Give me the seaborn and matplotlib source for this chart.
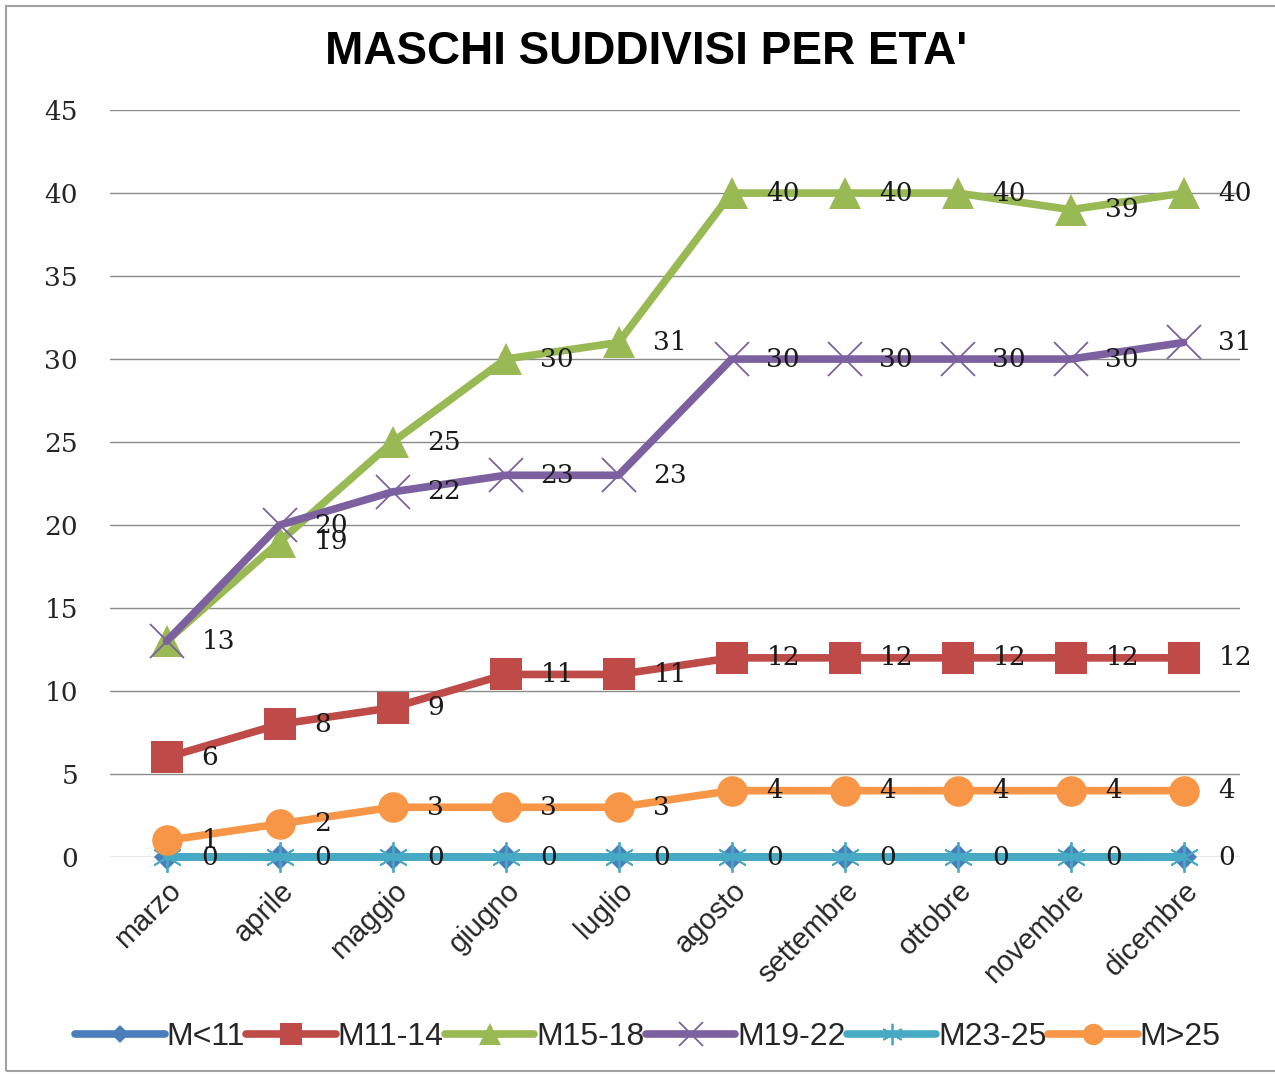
import numpy as np
import pandas as pd
import matplotlib
matplotlib.use('Agg')
import matplotlib.pyplot as plt
import matplotlib.patches as mpatches
import seaborn as sns

# dati
mesi = ['marzo', 'aprile', 'maggio', 'giugno', 'luglio', 'agosto',
        'settembre', 'ottobre', 'novembre', 'dicembre']
m_lt11 = [0, 0, 0, 0, 0, 0, 0, 0, 0, 0]
m_11_14 = [6, 8, 9, 11, 11, 12, 12, 12, 12, 12]
m_15_18 = [13, 19, 25, 30, 31, 40, 40, 40, 39, 40]
m_19_22 = [13, 20, 22, 23, 23, 30, 30, 30, 30, 31]
m_23_25 = [0, 0, 0, 0, 0, 0, 0, 0, 0, 0]
m_gt25 = [1, 2, 3, 3, 3, 4, 4, 4, 4, 4]
y_ticks = [0, 5, 10, 15, 20, 25, 30, 35, 40, 45]

SERIES = [
    ('M<11', m_lt11, '#4A7EBB', 'D', 13),
    ('M11-14', m_11_14, '#BE4B48', 's', 23),
    ('M15-18', m_15_18, '#98B954', '^', 23),
    ('M19-22', m_19_22, '#7D60A0', 'x', 24),
    ('M23-25', m_23_25, '#46AAC5', (6, 2, 0), 22),
    ('M>25', m_gt25, '#F79646', 'o', 22),
]

sns.set_style('white')
plt.rcParams['font.family'] = ['Liberation Sans', 'DejaVu Sans']

fig = plt.figure(figsize=(12.75, 10.74), dpi=100)
ax = fig.add_axes([0.0863, 0.2020, 0.8863, 0.6955])

x = np.arange(len(mesi))
handles = []
seen = set()
for name, vals, color, mk, ms in SERIES:
    df = pd.DataFrame({'x': x, 'y': vals})
    if mk == 'x' or isinstance(mk, tuple):
        kw = dict(markeredgecolor=color, markeredgewidth=1.3, markerfacecolor='none')
    else:
        kw = dict(markeredgecolor=color, markerfacecolor=color, markeredgewidth=0)
    sns.lineplot(data=df, x='x', y='y', ax=ax, color=color, linewidth=5.5,
                 marker=mk, markersize=ms, sort=False, legend=False,
                 clip_on=False, **kw)
    for xi, v in zip(x, vals):
        # etichette coincidenti (stesso punto) scritte una volta sola
        if (xi, v) in seen:
            continue
        seen.add((xi, v))
        ax.annotate(str(v), (xi, v), textcoords='offset points', xytext=(25, 0),
                    ha='left', va='center', fontsize=19, family='DejaVu Serif',
                    color='#1A1A1A', zorder=20, annotation_clip=False)
    handles.append(plt.Line2D([], [], color=color, linewidth=5.5, marker=mk,
                              markersize=ms * 0.7, **kw))

ax.set_xlim(-0.5, len(mesi) - 0.5)
ax.set_ylim(0, 45)
ax.set_yticks(y_ticks)
ax.set_yticklabels([str(t) for t in y_ticks], family='DejaVu Serif', fontsize=19)
ax.set_xticks(x)
ax.set_xticklabels(mesi, rotation=45, ha='right', rotation_mode='anchor', fontsize=21)
ax.tick_params(axis='y', length=0, pad=23)
ax.tick_params(axis='x', length=0, pad=14)
ax.grid(axis='y', color='#8A8A8A', linewidth=1)
ax.set_axisbelow(True)
for s in ax.spines.values():
    s.set_visible(False)
ax.set_xlabel('')
ax.set_ylabel('')

fig.text(0.507, 0.952, "MASCHI SUDDIVISI PER ETA'", ha='center', va='center',
         fontsize=33, fontweight='bold', color='black')

fig.legend(handles=handles, labels=[s[0] for s in SERIES], loc='center',
           bbox_to_anchor=(0.508, 0.034), ncol=6, frameon=False, fontsize=23,
           handlelength=2.8, columnspacing=0.05, handletextpad=0.05)

fig.patches.append(mpatches.Rectangle((0.005, 0.003), 1.2, 0.991, transform=fig.transFigure,
                                      fill=False, edgecolor='#A0A0A0', linewidth=1.5))

fig.savefig('out.png', dpi=100)
